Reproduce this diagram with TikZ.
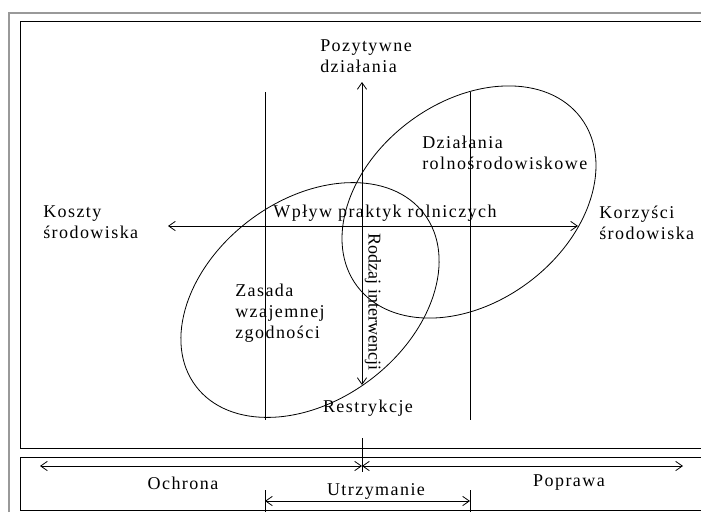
\documentclass[tikz,border=0pt]{standalone}
\usepackage{fontspec}
\setmainfont{Liberation Serif}[LetterSpace=8]
\newfontfamily\narrowserif{Liberation Serif}[LetterSpace=0]
\usetikzlibrary{arrows.meta}
\begin{document}
\begin{tikzpicture}[x=0.75pt,y=-0.75pt,
  ln/.style={line width=0.6pt, black},
  arr/.style={ln, {Straight Barb[length=5pt,width=7pt]}-{Straight Barb[length=5pt,width=7pt]}},
  lbl/.style={font=\fontsize{13.5}{15.6}\selectfont, inner sep=0pt, align=left},
  frame/.style={line width=0.7pt, black},
  outer/.style={line width=1.5pt, gray!80}]
\useasboundingbox (0,0) rectangle (701,512);
% frames
\draw[outer] (9,512) -- (9,12.5) -- (701,12.5);
\draw[frame] (701,21) -- (20,21) -- (20,448) -- (701,448);
\draw[frame] (701,457) -- (20,457) -- (20,510) -- (701,510);
% coordinates
\coordinate (vtop) at (362,82);
\coordinate (vbot) at (362,385);
\coordinate (hl) at (168,226);
\coordinate (hr) at (578,226);
\coordinate (l1t) at (265,92);
\coordinate (l1b) at (265,420);
\coordinate (l2t) at (470,92);
\coordinate (l2b) at (470,420);
\coordinate (mt) at (362,438);
\coordinate (mb) at (362,472);
\coordinate (oL) at (40,466);
\coordinate (oM) at (362,466);
\coordinate (oR) at (683,466);
\coordinate (uL) at (265,501);
\coordinate (uR) at (470,501);
\coordinate (t1t) at (265,490);
\coordinate (t1b) at (265,512);
\coordinate (t2t) at (470,490);
\coordinate (t2b) at (470,512);
% lines
\draw[ln] (l1t) -- (l1b);
\draw[ln] (l2t) -- (l2b);
\draw[arr] (vtop) -- (vbot);
\draw[arr] (hl) -- (hr);
\draw[ln] (mt) -- (mb);
\draw[arr] (oL) -- (oM);
\draw[arr] (oM) -- (oR);
\draw[arr] (uL) -- (uR);
\draw[ln] (t1t) -- (t1b);
\draw[ln] (t2t) -- (t2b);
% ellipses
\draw[ln, rotate around={37:(310,300)}] (310,300) ellipse [x radius=143, y radius=100];
\draw[ln, rotate around={37:(469,202)}] (469,202) ellipse [x radius=140, y radius=100];
% labels
\node[lbl, anchor=west] (poz) at (320,56) {Pozytywne\\działania};
\node[lbl] (restr) at (368,408) {Restrykcje};
\node[lbl] (wplyw) at (385,213) {Wpływ praktyk rolniczych};
\node[lbl, anchor=west] (koszty) at (43,222.5) {Koszty\\środowiska};
\node[lbl, anchor=west] (korzysci) at (599,223) {Korzyści\\środowiska};
\node[lbl, anchor=west] (dzial) at (422,153) {Działania\\rolnośrodowiskowe};
\node[lbl, anchor=west] (zasada) at (235,313) {Zasada\\wzajemnej\\zgodności};
\node[lbl, rotate=-90, font=\fontsize{13.5}{15.6}\narrowserif] (rodzaj) at (373,302) {Rodzaj interwencji};
\node[lbl] (ochrona) at (183,483) {Ochrona};
\node[lbl] (poprawa) at (569,483) {Poprawa};
\node[lbl] (utrz) at (376,491) {Utrzymanie};
\end{tikzpicture}
\end{document}
